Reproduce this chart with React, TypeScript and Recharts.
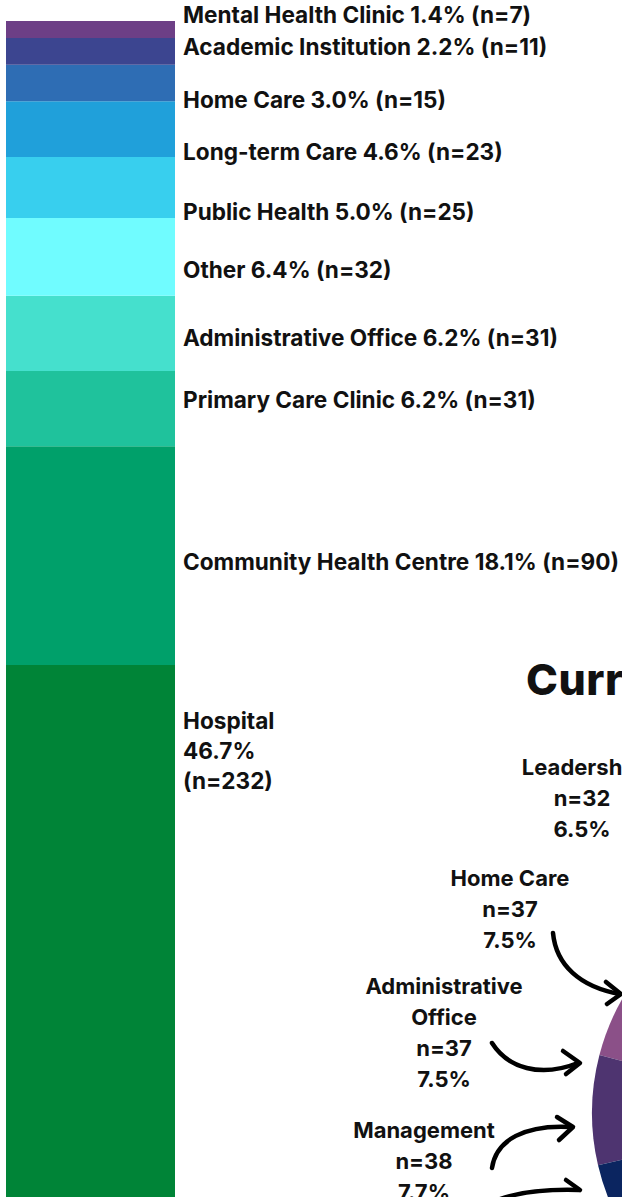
import { BarChart, Bar, XAxis, YAxis, LabelList, PieChart, Pie, Cell } from 'recharts';

// practice setting (stacked bar, top to bottom)
const settings = [
  'Mental Health Clinic',
  'Academic Institution',
  'Home Care',
  'Long-term Care',
  'Public Health',
  'Other',
  'Administrative Office',
  'Primary Care Clinic',
  'Community Health Centre',
  'Hospital',
];
const settingCounts = [7, 11, 15, 23, 25, 32, 31, 31, 90, 232];
const settingPercents = ['1.4', '2.2', '3.0', '4.6', '5.0', '6.4', '6.2', '6.2', '18.1', '46.7'];
const settingColors = [
  '#6d3f86', '#3c4590', '#2e6db4', '#20a0da', '#38cfee',
  '#70fcff', '#45e0cd', '#1fc29c', '#00a06a', '#008437',
];

// current role (pie, only the left edge is in frame)
const roles = ['Leadership', 'Home Care', 'Administrative Office', 'Management', 'Other roles'];
const roleCounts = [32, 37, 37, 38, 349];
const rolePercents = ['6.5', '7.5', '7.5', '7.7', ''];
const roleColors = ['#d595b8', '#b9739b', '#8b5088', '#4e3470', '#0b2560'];

// layout only
const LABEL_BASELINE = [23, 55, 108, 160, 220, 278, 346, 408, 570, 729];
const ROLE_LABELS = [
  { cx: 582, y: 775, lines: ['Leadership'] },
  { cx: 510, y: 886, lines: ['Home Care'] },
  { cx: 444, y: 994, lines: ['Administrative', 'Office'] },
  { cx: 424, y: 1138, lines: ['Management'] },
];
const LINE = 31;

const settingTotal = settingCounts.reduce((a, b) => a + b, 0);
const barRow: Record<string, any> = { name: 'Practice setting' };
settings.forEach((_, i) => {
  barRow[`s${i}`] = settingCounts[i];
});
const pieData = roles.map((r, i) => ({ name: r, value: roleCounts[i] }));

const FONT = 'Inter, "DejaVu Sans", sans-serif';

function settingLabel(i: number) {
  return (p: any) => {
    const x = Number(p.x) + Number(p.width) + 8;
    const lines =
      i === settings.length - 1
        ? [settings[i], `${settingPercents[i]}%`, `(n=${settingCounts[i]})`]
        : [`${settings[i]} ${settingPercents[i]}% (n=${settingCounts[i]})`];
    return (
      <text x={x} y={LABEL_BASELINE[i]} fontFamily={FONT} fontSize={22.6} fontWeight={700} fill="#111">
        {lines.map((l, k) => (
          <tspan key={k} x={x} dy={k ? 30 : 0}>
            {l}
          </tspan>
        ))}
      </text>
    );
  };
}

export default function App() {
  const order = settings.map((_, i) => i).reverse();
  return (
    <div
      style={{
        position: 'absolute',
        left: 0,
        top: 0,
        width: 622,
        height: 1197,
        overflow: 'hidden',
        background: '#ffffff',
        fontFamily: FONT,
      }}
    >
      <BarChart
        width={622}
        height={1229}
        data={[barRow]}
        margin={{ top: 21, right: 447, left: 6, bottom: 0 }}
        barCategoryGap={0}
      >
        <XAxis dataKey="name" hide />
        <YAxis hide domain={[0, settingTotal]} allowDataOverflow />
        {order.map((i) => (
          <Bar key={i} dataKey={`s${i}`} stackId="a" fill={settingColors[i]} isAnimationActive={false}>
            <LabelList dataKey={`s${i}`} content={settingLabel(i)} />
          </Bar>
        ))}
      </BarChart>

      <div style={{ position: 'absolute', left: 0, top: 0 }}>
        <PieChart width={622} height={1197}>
          <Pie
            data={pieData}
            dataKey="value"
            nameKey="name"
            cx={817}
            cy={1108}
            outerRadius={230}
            startAngle={88}
            endAngle={448}
            stroke="none"
            isAnimationActive={false}
          >
            {pieData.map((d, i) => (
              <Cell key={d.name} fill={roleColors[i]} />
            ))}
          </Pie>
        </PieChart>
      </div>

      <svg width={622} height={1197} style={{ position: 'absolute', left: 0, top: 0 }}>
        <text x={526} y={695} fontFamily={FONT} fontSize={43} fontWeight={800} letterSpacing={0.5} fill="#111">
          Current Role
        </text>
        {ROLE_LABELS.map((r, i) => {
          const lines = [...r.lines, `n=${roleCounts[i]}`, `${rolePercents[i]}%`];
          return (
            <text key={i} x={r.cx} y={r.y} textAnchor="middle" fontFamily={FONT} fontSize={22} fontWeight={700} fill="#111">
              {lines.map((l, k) => (
                <tspan key={k} x={r.cx} dy={k ? LINE : 0}>
                  {l}
                </tspan>
              ))}
            </text>
          );
        })}
        <g fill="none" stroke="#000" strokeWidth={4.5} strokeLinecap="round" strokeLinejoin="round">
          <path d="M 553 933 C 556 965, 580 987, 620 994" />
          <path d="M 606 982 L 621 994 L 607 1004" />
          <path d="M 492 1043 C 508 1068, 540 1078, 578 1063" />
          <path d="M 563 1051 L 580 1063 L 566 1074" />
          <path d="M 492 1168 C 496 1140, 525 1124, 572 1127" />
          <path d="M 557 1117 L 573 1127 L 559 1140" />
          <path d="M 500 1199 C 520 1192, 545 1189, 579 1190" />
          <path d="M 566 1180 L 580 1190" />
        </g>
      </svg>
    </div>
  );
}
